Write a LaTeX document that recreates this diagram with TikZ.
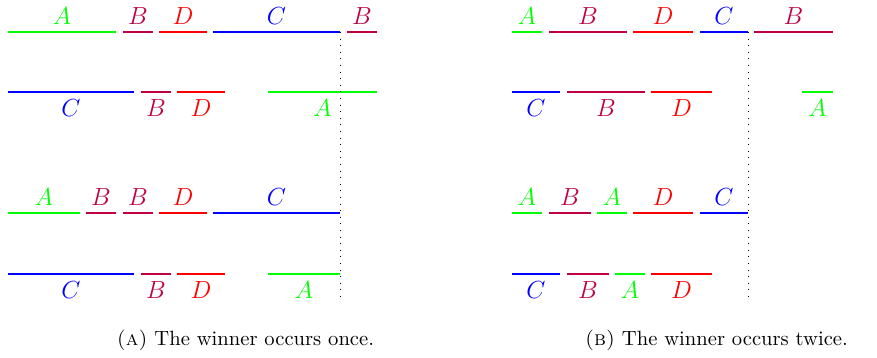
\documentclass[tikz,border=0pt]{standalone}
\definecolor{winner}{rgb}{0,1,0}
\begin{document}
\begin{tikzpicture}[x=0.485pt, y=-0.485pt, line width=0.6pt, lbl/.style={font=\large}, cutline/.style={line width=0.4pt, dash pattern=on 0.4pt off 2.8pt}]
  \useasboundingbox (0,0) rectangle (877,358);
  \begin{scope}
    \foreach \a/\b/\l/\c [count=\i] in {8/116/A/winner, 123/153/B/purple, 159/207/D/red, 213/340/C/blue, 347/377/B/purple}{
      \draw[\c] (\a,32) -- node[lbl, above] (la1\i) {$\l$} (\b,32);
    }
    \foreach \a/\b/\l/\c [count=\i] in {8/134/C/blue, 141/171/B/purple, 177/225/D/red, 268/377/A/winner}{
      \draw[\c] (\a,92) -- node[lbl, below] (la2\i) {$\l$} (\b,92);
    }
    \foreach \a/\b/\l/\c [count=\i] in {8/80/A/winner, 86/116/B/purple, 123/153/B/purple, 159/207/D/red, 213/340/C/blue}{
      \draw[\c] (\a,213) -- node[lbl, above] (la3\i) {$\l$} (\b,213);
    }
    \foreach \a/\b/\l/\c [count=\i] in {8/134/C/blue, 141/171/B/purple, 177/225/D/red, 268/340/A/winner}{
      \draw[\c] (\a,274) -- node[lbl, below] (la4\i) {$\l$} (\b,274);
    }
    \draw[cutline] (340,32) -- (340,296);
    \node[anchor=base] (capa) at (245.5,346) {\textsc{(a)} The winner occurs once.};
  \end{scope}
  \begin{scope}
    \foreach \a/\b/\l/\c [count=\i] in {512/542/A/winner, 549/627/B/purple, 633/693/D/red, 700/748/C/blue, 754/833/B/purple}{
      \draw[\c] (\a,32) -- node[lbl, above] (lb1\i) {$\l$} (\b,32);
    }
    \foreach \a/\b/\l/\c [count=\i] in {512/560/C/blue, 567/645/B/purple, 651/712/D/red, 802/833/A/winner}{
      \draw[\c] (\a,92) -- node[lbl, below] (lb2\i) {$\l$} (\b,92);
    }
    \foreach \a/\b/\l/\c [count=\i] in {512/542/A/winner, 549/591/B/purple, 597/627/A/winner, 633/693/D/red, 700/748/C/blue}{
      \draw[\c] (\a,213) -- node[lbl, above] (lb3\i) {$\l$} (\b,213);
    }
    \foreach \a/\b/\l/\c [count=\i] in {512/560/C/blue, 567/609/B/purple, 615/645/A/winner, 651/712/D/red}{
      \draw[\c] (\a,274) -- node[lbl, below] (lb4\i) {$\l$} (\b,274);
    }
    \draw[cutline] (748,32) -- (748,296);
    \node[anchor=base] (capb) at (716.5,346) {\textsc{(b)} The winner occurs twice.};
  \end{scope}
\end{tikzpicture}
\end{document}
